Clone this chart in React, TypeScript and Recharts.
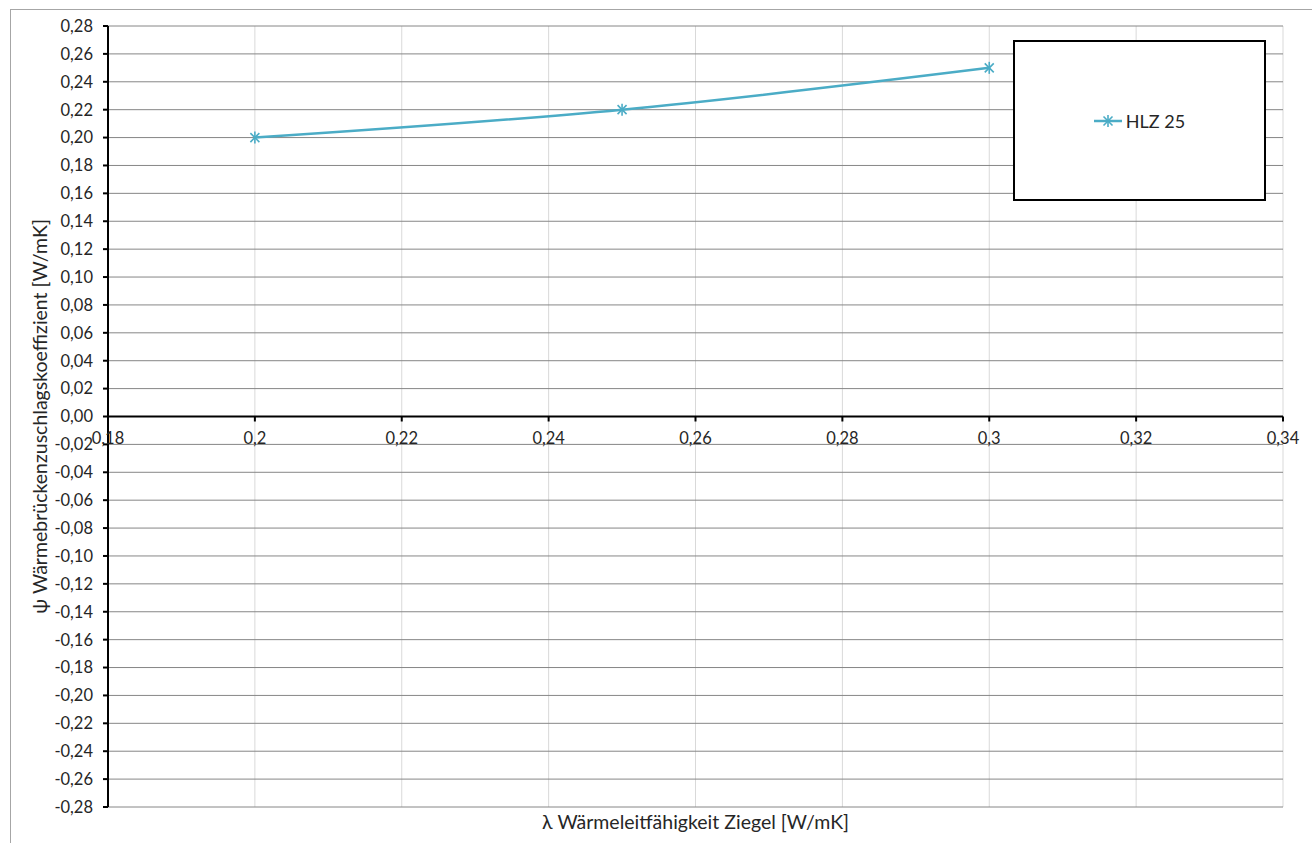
import { CartesianGrid, Label, Legend, Line, LineChart, ReferenceLine, XAxis, YAxis } from "recharts"

// λ Wärmeleitfähigkeit Ziegel [W/mK]
const lambdaValues = [0.2, 0.25, 0.3]
// ψ Wärmebrückenzuschlagskoeffizient [W/mK] for HLZ 25
const hlz25Values = [0.2, 0.22, 0.25]

const xTicks = [0.18, 0.2, 0.22, 0.24, 0.26, 0.28, 0.3, 0.32, 0.34]
const yTicks = [
  -0.28, -0.26, -0.24, -0.22, -0.2, -0.18, -0.16, -0.14, -0.12, -0.1, -0.08, -0.06, -0.04, -0.02,
  0, 0.02, 0.04, 0.06, 0.08, 0.1, 0.12, 0.14, 0.16, 0.18, 0.2, 0.22, 0.24, 0.26, 0.28,
]

const seriesName = "HLZ 25"
const xTitle = "λ Wärmeleitfähigkeit Ziegel [W/mK]"
const yTitle = "ψ Wärmebrückenzuschlagskoeffizient [W/mK]"

const data = lambdaValues.map((x, i) => ({ x, hlz25: hlz25Values[i] }))

const W = 1312
const H = 843
const margin = { top: 26, right: 29, bottom: 6, left: 10 }
const yAxisWidth = 98
const xAxisHeight = 30
const plotTop = margin.top
const plotBottom = H - margin.bottom - xAxisHeight
const zeroY = (plotTop + plotBottom) / 2

const lineColor = "#4BACC6"
const textColor = "#262626"
const font = "Lato, 'Open Sans', sans-serif"

const fmtX = (v: number) => String(Math.round(v * 100) / 100).replace(".", ",")
const fmtY = (v: number) => v.toFixed(2).replace(".", ",").replace("-0,00", "0,00")

// x axis crosses at y = 0, so ticks are drawn on the zero line
function XTick(props: any) {
  const { x, payload } = props
  return (
    <g>
      <line x1={x} x2={x} y1={zeroY} y2={zeroY + 5} stroke="#000" strokeWidth={2} />
      <text x={x} y={zeroY + 27} textAnchor="middle" fontSize={16.5} fill={textColor}>
        {fmtX(payload.value)}
      </text>
    </g>
  )
}

function StarDot(props: any) {
  const { cx, cy } = props
  if (cx == null || cy == null) return null
  const r = 6
  const d = r * 0.75
  return (
    <g stroke={lineColor} strokeWidth={1.6}>
      <line x1={cx} y1={cy - r} x2={cx} y2={cy + r} />
      <line x1={cx - d} y1={cy - d} x2={cx + d} y2={cy + d} />
      <line x1={cx - d} y1={cy + d} x2={cx + d} y2={cy - d} />
    </g>
  )
}

function LegendBox() {
  return (
    <div
      style={{
        width: 249,
        height: 157,
        border: "2px solid #000",
        background: "#fff",
        display: "flex",
        alignItems: "center",
        justifyContent: "center",
        fontFamily: font,
        fontSize: 18,
        color: textColor,
      }}
    >
      <svg width={30} height={14} style={{ marginRight: 2 }}>
        <line x1={0} y1={7} x2={28} y2={7} stroke={lineColor} strokeWidth={2.5} />
        <StarDot cx={14} cy={7} />
      </svg>
      <span>{seriesName}</span>
    </div>
  )
}

export default function App() {
  return (
    <div style={{ position: "absolute", left: 0, top: 0, width: W, height: H, background: "#fff", fontFamily: font, overflow: "hidden" }}>
      <div
        style={{
          position: "absolute",
          left: 10,
          top: 9,
          width: W,
          height: H,
          borderLeft: "1.5px solid #a6a6a6",
          borderTop: "1.5px solid #a6a6a6",
        }}
      />
      <LineChart width={W} height={H} data={data} margin={margin}>
        <CartesianGrid horizontal={false} stroke="#d9d9d9" />
        <CartesianGrid vertical={false} stroke="#868686" />
        <XAxis
          dataKey="x"
          type="number"
          domain={[0.18, 0.34]}
          ticks={xTicks}
          interval={0}
          height={xAxisHeight}
          axisLine={false}
          tickLine={false}
          tick={<XTick />}
        >
          <Label value={xTitle} position="insideTop" offset={8} fontSize={19.5} fill={textColor} />
        </XAxis>
        <YAxis
          type="number"
          domain={[-0.28, 0.28]}
          ticks={yTicks}
          interval={0}
          width={yAxisWidth}
          tickFormatter={fmtY}
          axisLine={{ stroke: "#000", strokeWidth: 2 }}
          tickLine={{ stroke: "#000", strokeWidth: 2 }}
          tickSize={5}
          tickMargin={10}
          tick={{ fill: textColor, fontSize: 16.5 }}
        >
          <Label value={yTitle} angle={-90} position="insideLeft" offset={30} fontSize={19.5} fill={textColor} style={{ textAnchor: "middle" }} />
        </YAxis>
        <ReferenceLine y={0} stroke="#000" strokeWidth={2} />
        <Legend
          layout="horizontal"
          verticalAlign="middle"
          align="center"
          content={<LegendBox />}
          wrapperStyle={{ left: 1013, top: 40, width: 253, height: 161 }}
        />
        <Line
          dataKey="hlz25"
          name={seriesName}
          type="monotone"
          stroke={lineColor}
          strokeWidth={2.5}
          dot={<StarDot />}
          activeDot={false}
          isAnimationActive={false}
        />
      </LineChart>
    </div>
  )
}
